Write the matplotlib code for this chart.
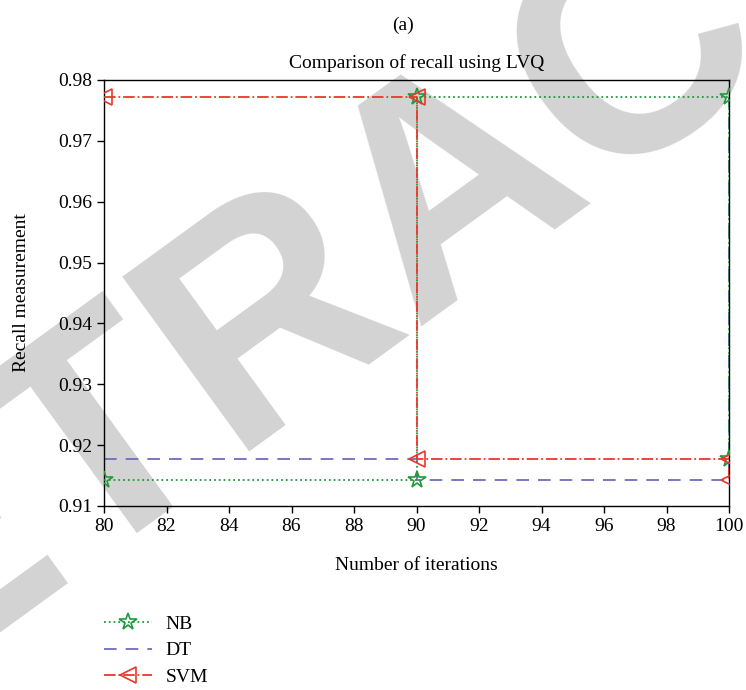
import matplotlib.pyplot as plt

plt.rcParams['font.family'] = ['Liberation Serif', 'DejaVu Serif']

# iteration points (each classifier is traced as a stepped path)
iterations = [80, 90, 90, 100, 100]
nb_recall = [0.9143, 0.9143, 0.9772, 0.9772, 0.9177]
dt_recall = [0.9177, 0.9177, 0.9143, 0.9143, 0.9772]
svm_recall = [0.9772, 0.9772, 0.9177, 0.9177, 0.9143]

x_ticks = list(range(80, 101, 2))
y_ticks = [0.91, 0.92, 0.93, 0.94, 0.95, 0.96, 0.97, 0.98]

fig = plt.figure(figsize=(7.46, 6.90), dpi=100)

# grey watermark behind the plot
fig.text(0.61, 0.73, 'RETRACTED', fontsize=225, fontweight='bold',
         family='Liberation Sans', color='#d3d3d3', rotation=36,
         ha='center', va='center', zorder=0)

ax = fig.add_axes([104 / 746, 1 - 506 / 690, 625 / 746, 426 / 690])
ax.set_facecolor('none')
ax.set_zorder(2)

ax.plot(iterations, nb_recall, linestyle=':', color='#1f9a3c', lw=1.3,
        marker='*', markersize=13, markerfacecolor='none',
        markeredgecolor='#1f9a3c', markeredgewidth=1.2, label='NB', zorder=3)
ax.plot(iterations, dt_recall, linestyle=(0, (7, 5)), color='#6d6dbd', lw=1.3,
        label='DT', zorder=2)
ax.plot(iterations, svm_recall, linestyle='-.', color='#e8382d', lw=1.3,
        marker='<', markersize=11, markerfacecolor='none',
        markeredgecolor='#e8382d', markeredgewidth=1.2, label='SVM', zorder=4)

ax.set_xlim(80, 100)
ax.set_ylim(0.91, 0.98)
ax.set_xticks(x_ticks)
ax.set_yticks(y_ticks)
ax.set_yticklabels([f'{v:.2f}' for v in y_ticks])
ax.tick_params(labelsize=14, direction='out', length=5, width=1)
for s in ax.spines.values():
    s.set_linewidth(1.0)

ax.set_title('Comparison of recall using LVQ', fontsize=14, pad=9)
ax.set_xlabel('Number of iterations', fontsize=14, labelpad=16)
ax.set_ylabel('Recall measurement', fontsize=14, labelpad=20)

fig.text(0.540, 1 - 25 / 690, '(a)', fontsize=14, ha='center', va='center')

leg = fig.legend(loc='upper left', bbox_to_anchor=(86 / 746, 1 - 598 / 690),
                 frameon=False, fontsize=14, handlelength=2.5,
                 labelspacing=0.45, handletextpad=0.7)
leg.set_zorder(3)

fig.savefig('out.png', dpi=100)
